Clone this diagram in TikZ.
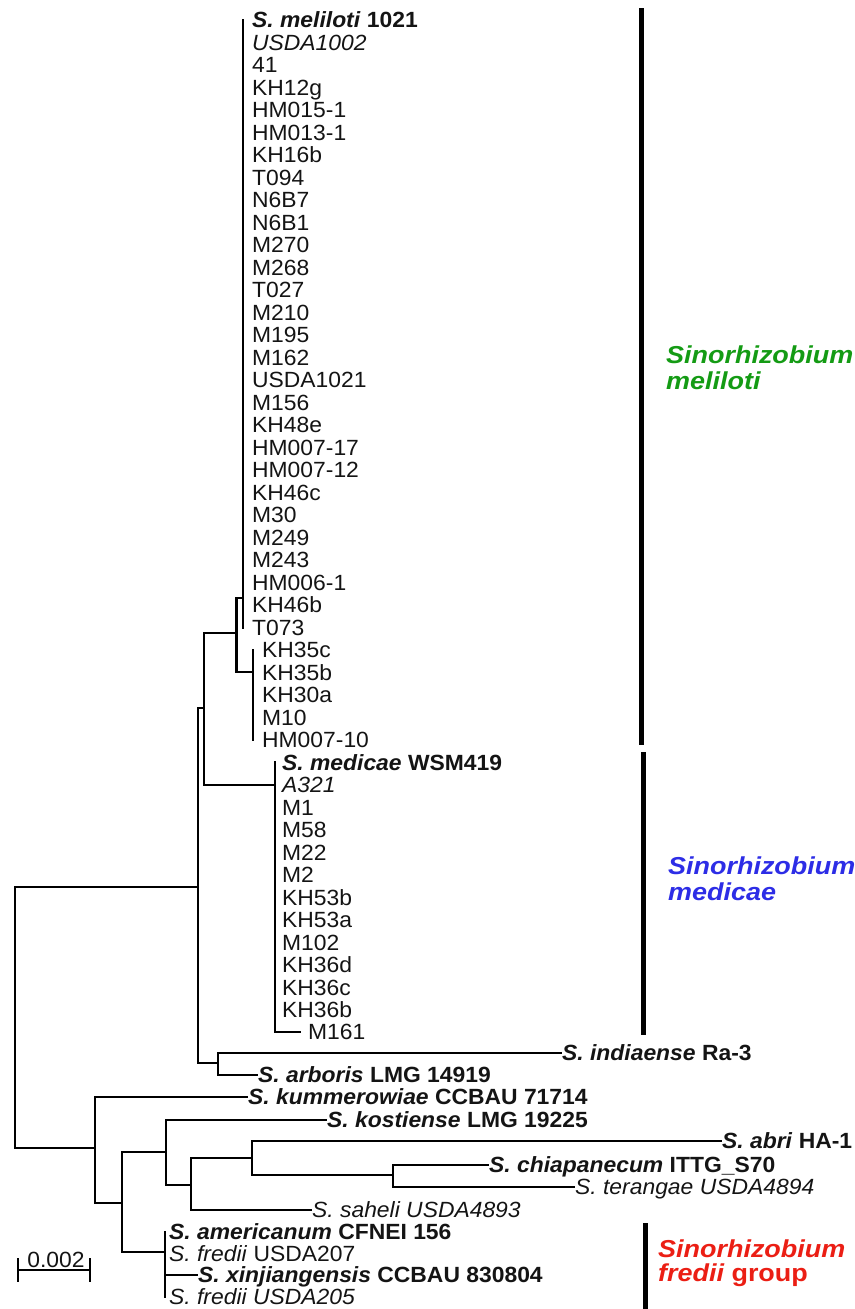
\documentclass[tikz,border=0pt]{standalone}
\usepackage{fontspec}
\setmainfont{Liberation Sans}[FakeStretch=1.04]
\newfontfamily\cladefont{Liberation Sans}[FakeStretch=1.1]
\definecolor{cgreen}{RGB}{20,155,20}
\definecolor{cblue}{RGB}{45,45,230}
\definecolor{cred}{RGB}{235,30,20}
\begin{document}
\begin{tikzpicture}[x=1pt,y=-1pt,line width=2.3pt,line cap=rect,
  lf/.style={anchor=west,inner xsep=0pt,inner ysep=0pt,text height=15.8pt,text depth=0pt,
    font=\fontsize{22}{24}\selectfont,text=black!92},
  br/.style={line width=2.3pt},
  cbar/.style={line width=5pt,line cap=butt},
  clade/.style={anchor=base west,inner sep=0pt,font=\cladefont\fontsize{24.5}{26}\selectfont\bfseries\itshape}]
\useasboundingbox (0,0) rectangle (854,1309);

% ---------- leaves: S. meliloti ----------
\foreach \t [count=\i from 0] in {{\textbf{\textit{S. meliloti} 1021}},{\textit{USDA1002}},41,KH12g,HM015-1,HM013-1,KH16b,T094,N6B7,N6B1,M270,M268,T027,M210,M195,M162,USDA1021,M156,KH48e,HM007-17,HM007-12,KH46c,M30,M249,M243,HM006-1,KH46b,T073}
  \node[lf] (m\i) at (251,{20+22.5*\i}) {\t};
\foreach \t [count=\i from 0] in {KH35c,KH35b,KH30a,M10,HM007-10}
  \node[lf] (k\i) at (261,{650+22.5*\i}) {\t};
% ---------- leaves: S. medicae ----------
\foreach \t [count=\i from 0] in {{\textbf{\textit{S. medicae} WSM419}},{\textit{A321}},M1,M58,M22,M2,KH53b,KH53a,M102,KH36d,KH36c,KH36b}
  \node[lf] (d\i) at (281,{762.5+22.5*\i}) {\t};
\node[lf,inner xsep=0pt] (d12) at (307,1032) {M161};

% ---------- other leaves ----------
\node[lf] (ind) at (561,1053) {\textbf{\textit{S. indiaense} Ra-3}};
\node[lf] (arb) at (257,1075) {\textbf{\textit{S. arboris} LMG 14919}};
\node[lf] (kum) at (247,1097) {\textbf{\textit{S. kummerowiae} CCBAU 71714}};
\node[lf] (kos) at (326,1120) {\textbf{\textit{S. kostiense} LMG 19225}};
\node[lf] (abr) at (721,1141) {\textbf{\textit{S. abri} HA-1}};
\node[lf] (chi) at (488,1165) {\textbf{\textit{S. chiapanecum} ITTG\_S70}};
\node[lf] (ter) at (574,1187) {\textit{S. terangae USDA4894}};
\node[lf] (sah) at (311,1210) {\textit{S. saheli USDA4893}};
\node[lf] (ame) at (168,1232) {\textbf{\textit{S. americanum} CFNEI 156}};
\node[lf] (f207) at (168,1254) {\textit{S. fredii} USDA207};
\node[lf] (xin) at (197,1275) {\textbf{\textit{S. xinjiangensis} CCBAU 830804}};
\node[lf] (f205) at (168,1297) {\textit{S. fredii USDA205}};

% ---------- internal nodes ----------
\coordinate (A)  at (243,598);
\coordinate (A2) at (253,672);
\coordinate (B)  at (236.5,633);
\coordinate (C)  at (204,708);
\coordinate (M)  at (275,785);
\coordinate (D)  at (198,887);
\coordinate (E)  at (218,1063);
\coordinate (R)  at (15,1017);
\coordinate (F)  at (95,1148);
\coordinate (G)  at (122,1203);
\coordinate (H)  at (166,1152);
\coordinate (I)  at (191,1185);
\coordinate (J)  at (252,1158);
\coordinate (K)  at (393,1175);
\coordinate (L)  at (165,1252);
\coordinate (Mt) at (300,1032);

% ---------- branches ----------
\draw[br] (A |- m0.west) -- (A |- m27.west);
\draw[br] (A2 |- k0.west) -- (A2 |- k4.west);
\draw[br] (B) |- (A);
\draw[br] (B) |- (A2);
\draw[br] (C) |- (B);
\draw[br] (C) |- (M);
\draw[br] (M |- d0.west) -- (M |- d12.west) -- (Mt);
\draw[br] (D) |- (C);
\draw[br] (D) |- (E);
\draw[br] (E) |- (ind.west);
\draw[br] (E) |- (arb.west);
\draw[br] (R) |- (D);
\draw[br] (R) |- (F);
\draw[br] (F) |- (kum.west);
\draw[br] (F) |- (G);
\draw[br] (G) |- (H);
\draw[br] (G) |- (L);
\draw[br] (H) |- (kos.west);
\draw[br] (H) |- (I);
\draw[br] (I) |- (J);
\draw[br] (I) |- (sah.west);
\draw[br] (J) |- (abr.west);
\draw[br] (J) |- (K);
\draw[br] (K) |- (chi.west);
\draw[br] (K) |- (ter.west);
\draw[br] (L |- ame.west) -- (L |- f205.west);
\draw[br] (L) |- (xin.west);

% ---------- scale bar ----------
\coordinate (sb1) at (18,1270);
\coordinate (sb2) at (90,1270);
\draw[line width=2pt,line cap=butt] (sb1) -- (sb2);
\draw[line width=2pt,line cap=butt] ([yshift=12pt]sb1) -- ([yshift=-12pt]sb1);
\draw[line width=2pt,line cap=butt] ([yshift=12pt]sb2) -- ([yshift=-12pt]sb2);
\node[lf,anchor=base] (sbl) at (56,1267) {0.002};

% ---------- clade bars and names ----------
\coordinate (b1t) at (641,8);    \coordinate (b1b) at (641,745);
\coordinate (b2t) at (643,752);  \coordinate (b2b) at (643,1035);
\coordinate (b3t) at (645,1223); \coordinate (b3b) at (645,1309);
\draw[cbar] (b1t) -- (b1b);
\draw[cbar] (b2t) -- (b2b);
\draw[cbar] (b3t) -- (b3b);
\node[clade,text=cgreen] (g1) at (665,363) {Sinorhizobium};
\node[clade,text=cgreen] (g2) at (665,389) {meliloti};
\node[clade,text=cblue] (u1) at (667,874) {Sinorhizobium};
\node[clade,text=cblue] (u2) at (667,900) {medicae};
\node[clade,text=cred] (r1) at (657,1257) {Sinorhizobium};
\node[clade,text=cred] (r2) at (657,1281) {fredii \upshape group};
\end{tikzpicture}
\end{document}
